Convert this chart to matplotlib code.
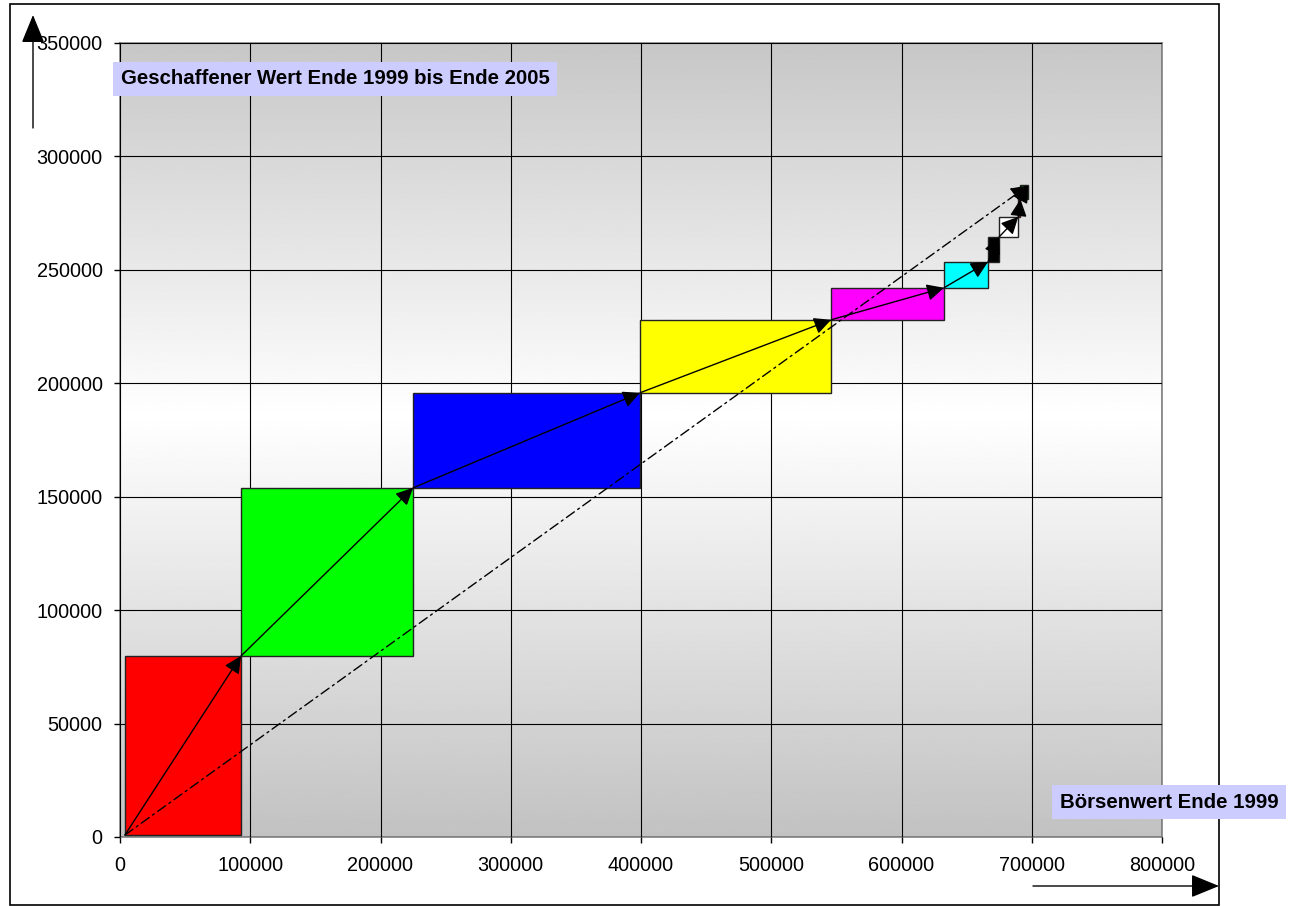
import numpy as np
import matplotlib
matplotlib.use("Agg")
import matplotlib.pyplot as plt
from matplotlib.patches import Rectangle, FancyArrowPatch

plt.rcParams['font.family'] = ['Liberation Sans', 'DejaVu Sans']

# Börsenwert Ende 1999 (Breite) und geschaffener Wert (Höhe) je Segment
start_x = 3800
start_y = 900
boersenwert = [89100, 132100, 174200, 146800, 86600, 33800, 8500, 14800, 1600, 6000]
geschaffen = [78900, 74100, 41900, 32200, 14100, 11400, 11000, 8900, 7700, 6100]
farben = ['#ff0000', '#00ff00', '#0000ff', '#ffff00', '#ff00ff',
          '#00ffff', '#000000', '#ffffff', '#ff0000', '#003300']

x_ticks = [0, 100000, 200000, 300000, 400000, 500000, 600000, 700000, 800000]
y_ticks = [0, 50000, 100000, 150000, 200000, 250000, 300000, 350000]

W, H = 1293, 906
fig = plt.figure(figsize=(W / 100, H / 100), dpi=100)
ax = fig.add_axes([120 / W, 1 - 837 / H, (1162 - 120) / W, (837 - 43) / H])

# hintergrund verlauf
yy = np.linspace(0, 1, 400)
center = 0.53
g = np.where(yy < center, 0.76 + 0.24 * (yy / center),
             1.0 - 0.22 * ((yy - center) / (1 - center)))
ax.imshow(g[:, None], extent=[0, 800000, 0, 350000], origin='lower',
          aspect='auto', cmap='gray', vmin=0, vmax=1, zorder=0)

ax.set_xlim(0, 800000)
ax.set_ylim(0, 350000)
ax.set_xticks(x_ticks)
ax.set_yticks(y_ticks)
ax.set_xticklabels([str(v) for v in x_ticks])
ax.set_yticklabels([str(v) for v in y_ticks])
ax.tick_params(labelsize=14.3, length=4.5, width=1, direction='out')
ax.tick_params(axis='x', pad=9.5)
ax.tick_params(axis='y', pad=8)
ax.grid(True, color='black', lw=0.8, zorder=1)
ax.set_axisbelow(False)
for s in ax.spines.values():
    s.set_color('#808080')
    s.set_linewidth(1.2)

xe = np.concatenate([[start_x], start_x + np.cumsum(boersenwert)])
ye = np.concatenate([[start_y], start_y + np.cumsum(geschaffen)])

for i in range(len(boersenwert)):
    ax.add_patch(Rectangle((xe[i], ye[i]), boersenwert[i], geschaffen[i],
                           facecolor=farben[i], edgecolor='#222222', lw=1, zorder=3))

for i in range(len(boersenwert)):
    ax.add_patch(FancyArrowPatch((xe[i], ye[i]), (xe[i + 1], ye[i + 1]),
                                 arrowstyle='-|>,head_length=0.65,head_width=0.32',
                                 mutation_scale=16, color='black', lw=1,
                                 shrinkA=0, shrinkB=0, zorder=5))

# gesamtpfeil strichpunkt
ax.add_patch(FancyArrowPatch((xe[0], ye[0]), (xe[-1], ye[-1]),
                             arrowstyle='-|>,head_length=0.65,head_width=0.32',
                             mutation_scale=16, color='black', lw=1,
                             ls=(0, (7, 3, 1.5, 3)),
                             shrinkA=0, shrinkB=0, zorder=5))

# rahmen und achsenpfeile
fig.patches.append(Rectangle((10 / W, 1 - 905 / H), 1209 / W, 901 / H,
                             transform=fig.transFigure, fill=False,
                             edgecolor='black', lw=1.2))
fig.patches.append(FancyArrowPatch((33 / W, 1 - 128 / H), (33 / W, 1 - 15 / H),
                                   transform=fig.transFigure,
                                   arrowstyle='-|>,head_length=1.1,head_width=0.45',
                                   mutation_scale=16, color='black', lw=1,
                                   shrinkA=0, shrinkB=0))
fig.patches.append(FancyArrowPatch((1033 / W, 1 - 886 / H), (1219 / W, 1 - 886 / H),
                                   transform=fig.transFigure,
                                   arrowstyle='-|>,head_length=1.1,head_width=0.45',
                                   mutation_scale=16, color='black', lw=1,
                                   shrinkA=0, shrinkB=0))

fig.text(121 / W, 1 - 79 / H, 'Geschaffener Wert Ende 1999 bis Ende 2005',
         fontsize=14.7, fontweight='bold', va='center', ha='left',
         bbox=dict(facecolor='#ccccff', edgecolor='none', pad=5.5))
fig.text(1060 / W, 1 - 802 / H, 'Börsenwert Ende 1999',
         fontsize=14.7, fontweight='bold', va='center', ha='left',
         bbox=dict(facecolor='#ccccff', edgecolor='none', pad=5.5))

fig.savefig('out.png', dpi=100)
